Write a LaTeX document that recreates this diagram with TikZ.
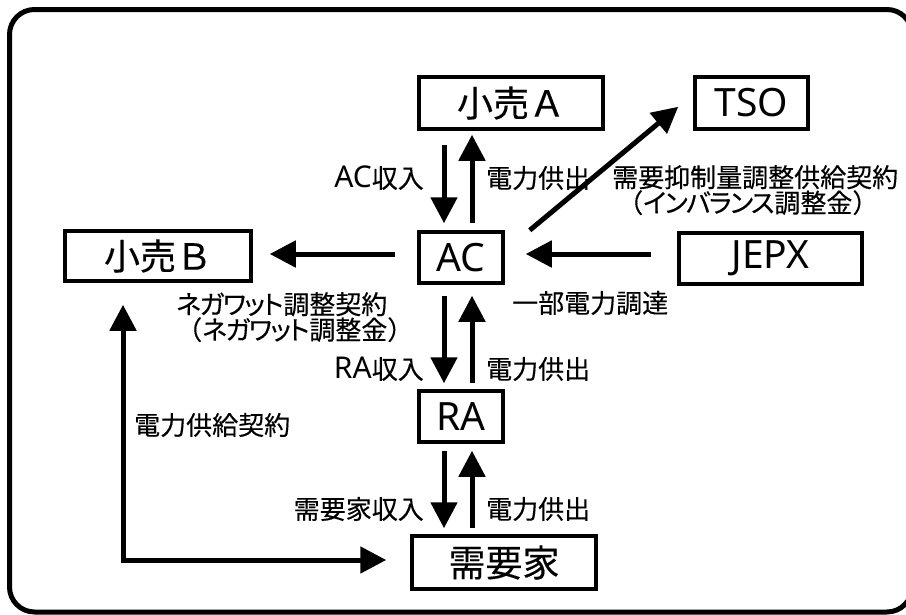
\documentclass[tikz,border=0pt]{standalone}
\usepackage{fontspec}
\setmainfont{Noto Sans}
\newfontfamily\cjk[FakeBold=0.3]{Noto Sans CJK JP}
\newfontfamily\cjkp[FakeBold=0.3,RawFeature=+palt,LetterSpace=-6]{Noto Sans CJK JP}
\usetikzlibrary{arrows.meta}
\newcommand\lbllat[1]{{\rmfamily\fontsize{30}{30}\selectfont #1}}
\newcommand\kn[1]{{\cjkp #1}}
\begin{document}
\begin{tikzpicture}[x=1pt,y=-1pt,
  box/.style={draw, line width=3.5pt, inner sep=0pt, align=center},
  jbox/.style={box, font=\cjk\fontsize{36}{36}\selectfont},
  lbox/.style={box, font=\rmfamily\fontsize{39}{39}\selectfont},
  arr/.style={line width=5pt, -{Triangle[length=26pt,width=26pt]}},
  lbl/.style={inner sep=0pt, font=\cjk\fontsize{26}{24}\selectfont},
]
\useasboundingbox (0,0) rectangle (906,614);
\clip (0,0) rectangle (906,614);
\fill[white] (0,0) rectangle (906,614);
\draw[line width=5pt, rounded corners=25pt] (9.5,9.5) rectangle (912,612);

% boxes
\node[jbox, minimum width=184pt, minimum height=52pt] (A) at (511,103) {小売Ａ};
\node[lbox, minimum width=113pt, minimum height=52pt] (TSO) at (751.5,103) {TSO};
\node[jbox, minimum width=186pt, minimum height=50pt] (B) at (158,256) {小売Ｂ};
\node[lbox, minimum width=84pt, minimum height=51pt] (AC) at (461,257.5) {AC};
\node[lbox, minimum width=183pt, minimum height=51pt] (JEPX) at (770.5,258.5) {JEPX};
\node[lbox, minimum width=84pt, minimum height=51pt] (RA) at (461,416.5) {RA};
\node[jbox, minimum width=184pt, minimum height=53pt, font=\cjk\fontsize{37}{37}\selectfont] (D) at (504,562.5) {需要家};

% labels
\node[lbl, anchor=east] (l1) at (424,178) {\lbllat{AC}収入};
\node[lbl, anchor=west] (l2) at (486,178) {電力供出};
\node[lbl, anchor=north west, align=left] (l3) at (612,165) {需要抑制量調整供給契約\\\hspace*{5pt}（\kn{インバランス}調整金）};
\node[lbl, anchor=north west, align=left] (l4) at (176,292) {\kn{ネガワット}調整契約\\（\kn{ネガワット}調整金）};
\node[lbl, anchor=west] (l5) at (512,303) {一部電力調達};
\node[lbl, anchor=east] (l6) at (424,369) {\lbllat{RA}収入};
\node[lbl, anchor=west] (l7) at (486,369) {電力供出};
\node[lbl, anchor=west] (l8) at (134,425) {電力供給契約};
\node[lbl, anchor=east] (l9) at (424,509) {需要家収入};
\node[lbl, anchor=west] (l10) at (486,509) {電力供出};

% connectors
\draw[arr, shorten <=14pt, shorten >=7pt] (A.south -| 444,0) -- (AC.north -| 444,0);
\draw[arr, shorten <=7pt, shorten >=4pt] (AC.north -| 472,0) -- (A.south -| 472,0);
\draw[arr, shorten <=11pt, shorten >=6pt] (AC.south -| 444,0) -- (RA.north -| 444,0);
\draw[arr, shorten <=6pt, shorten >=11pt] (RA.north -| 472,0) -- (AC.south -| 472,0);
\draw[arr, shorten <=7pt, shorten >=6pt] (RA.south -| 444,0) -- (D.north -| 444,0);
\draw[arr, shorten <=6pt, shorten >=7pt] (D.north -| 472,0) -- (RA.south -| 472,0);
\draw[arr, shorten <=22pt, shorten >=17pt] (AC.west |- 0,254) -- (B.east |- 0,254);
\draw[arr, shorten <=26pt, shorten >=21pt] (JEPX.west |- 0,254) -- (AC.east |- 0,254);
\draw[arr] ([xshift=25pt]AC.north east) -- ([xshift=-15pt,yshift=24pt]TSO.south west);
\draw[line width=5pt, {Triangle[length=26pt,width=26pt]}-{Triangle[length=26pt,width=26pt]}, shorten <=22pt, shorten >=24pt] (B.south -| 123,0) |- (D.west |- 0,560);
\end{tikzpicture}
\end{document}
